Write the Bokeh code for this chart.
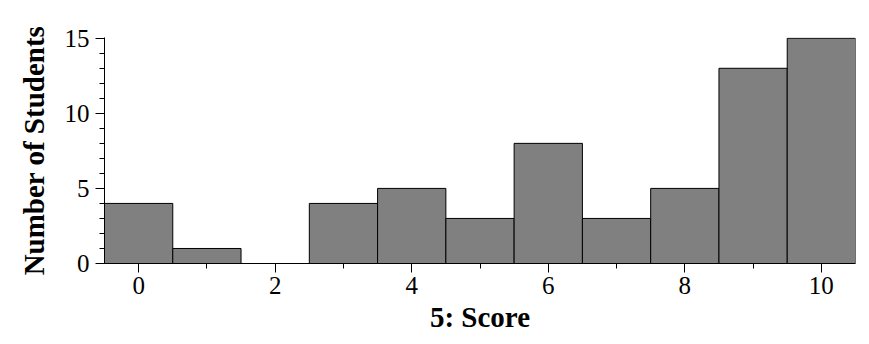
from bokeh.plotting import figure
from bokeh.models import Range1d, SingleIntervalTicker, ColumnDataSource
from bokeh.embed import file_html
from bokeh.resources import INLINE

scores = [0, 1, 2, 3, 4, 5, 6, 7, 8, 9, 10]
counts = [4, 1, 0, 4, 5, 3, 8, 3, 5, 13, 15]
x_label = "5: Score"
y_label = "Number of Students"

src = ColumnDataSource(dict(x=scores, top=counts))

p = figure(width=869, height=344, output_backend="svg", toolbar_location=None,
           x_range=Range1d(-0.5, 10.5), y_range=Range1d(0, 15.05),
           min_border_left=104, min_border_right=14, min_border_top=37, min_border_bottom=81)
p.outline_line_color = None
p.grid.visible = False
p.background_fill_color = "white"
p.border_fill_color = "white"

p.vbar(x="x", top="top", bottom=0, width=1, source=src,
       fill_color="#808080", line_color="black", line_width=1)

font = "Liberation Serif"
for ax in (p.xaxis[0], p.yaxis[0]):
    ax.axis_line_color = "black"
    ax.major_tick_line_color = "black"
    ax.minor_tick_line_color = "black"
    ax.major_tick_in = 0
    ax.minor_tick_in = 0
    ax.major_tick_out = 9
    ax.minor_tick_out = 5
    ax.major_label_text_font = font
    ax.major_label_text_font_size = "25px"
    ax.major_label_text_color = "black"
    ax.axis_label_text_font = font
    ax.axis_label_text_font_size = "29px"
    ax.axis_label_text_font_style = "bold"
    ax.axis_label_text_color = "black"

p.xaxis.ticker = SingleIntervalTicker(interval=2, num_minor_ticks=2)
p.yaxis.ticker = SingleIntervalTicker(interval=5, num_minor_ticks=5)
p.xaxis.axis_label = x_label
p.yaxis.axis_label = y_label
p.xaxis.major_label_standoff = 4
p.yaxis.major_label_standoff = 6
p.xaxis.axis_label_standoff = 4
p.yaxis.axis_label_standoff = 12

open("out.html", "w").write(file_html(p, INLINE))
